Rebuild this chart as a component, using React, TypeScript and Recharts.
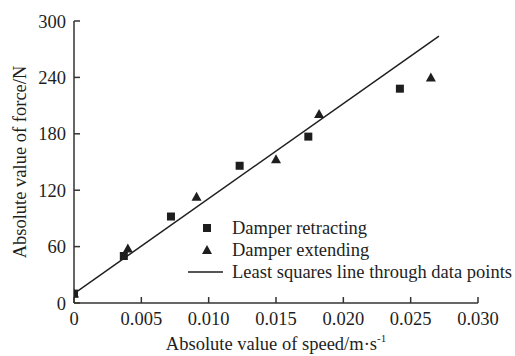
import React from "react";
import {
  ScatterChart,
  Scatter,
  XAxis,
  YAxis,
  Legend,
  Label,
} from "recharts";

const retractingSpeed = [0, 0.0037, 0.0072, 0.0123, 0.0174, 0.0242];
const retractingForce = [10, 50, 92, 146, 177, 228];

const extendingSpeed = [0, 0.004, 0.0091, 0.015, 0.0182, 0.0265];
const extendingForce = [10, 58, 113, 153, 201, 240];

const fitSpeed = [0, 0.0271];
const fitForce = [10, 284];

const xTicks = [0, 0.005, 0.01, 0.015, 0.02, 0.025, 0.03];
const yTicks = [0, 60, 120, 180, 240, 300];

const seriesNames = [
  "Damper retracting",
  "Damper extending",
  "Least squares line through data points",
];

const FONT = "'Liberation Serif', 'Times New Roman', serif";
const FS = 18.5;
const INK = "#1e1e1e";

const toPoints = (xs: number[], ys: number[]) =>
  xs.map((x, i) => ({ x, y: ys[i] }));

const retracting = toPoints(retractingSpeed, retractingForce);
const extending = toPoints(extendingSpeed, extendingForce);
const fitLine = toPoints(fitSpeed, fitForce);

function SquareMark(props: any) {
  const { cx, cy } = props;
  return <rect x={cx - 4} y={cy - 4} width={8} height={8} fill={INK} />;
}

function TriangleMark(props: any) {
  const { cx, cy } = props;
  return (
    <polygon
      points={`${cx},${cy - 5} ${cx - 5},${cy + 4} ${cx + 5},${cy + 4}`}
      fill={INK}
    />
  );
}

function LegendIcon({ index }: { index: number }) {
  return (
    <svg width={40} height={22} style={{ display: "block" }}>
      {index === 0 && <rect x={17} y={7} width={8} height={8} fill={INK} />}
      {index === 1 && <polygon points="21,6 16,15 26,15" fill={INK} />}
      {index === 2 && (
        <line x1={2} y1={11} x2={37} y2={11} stroke={INK} strokeWidth={1.5} />
      )}
    </svg>
  );
}

function ChartLegend() {
  return (
    <div style={{ fontFamily: FONT, fontSize: FS, color: INK }}>
      {seriesNames.map((name, i) => (
        <div
          key={name}
          style={{ display: "flex", alignItems: "center", height: 22, whiteSpace: "nowrap" }}
        >
          <LegendIcon index={i} />
          <span style={{ marginLeft: 6, lineHeight: "22px" }}>{name}</span>
        </div>
      ))}
    </div>
  );
}

function YTitle() {
  return (
    <text
      x={20}
      y={162}
      transform="rotate(-90, 20, 162)"
      textAnchor="middle"
      dominantBaseline="central"
      fontFamily={FONT}
      fontSize={FS}
      fill={INK}
    >
      Absolute value of force/N
    </text>
  );
}

function XTitle() {
  return (
    <text
      x={276}
      y={350}
      textAnchor="middle"
      fontFamily={FONT}
      fontSize={FS}
      fill={INK}
    >
      Absolute value of speed/m·s
      <tspan fontSize={11} dy={-8}>
        -1
      </tspan>
    </text>
  );
}

const formatX = (v: number) => (v === 0 ? "0" : v.toFixed(3));

export default function App() {
  return (
    <div style={{ position: "absolute", left: 0, top: 0 }}>
      <ScatterChart
        width={515}
        height={356}
        margin={{ top: 21, right: 37, bottom: 0, left: 0 }}
      >
        <XAxis
          type="number"
          dataKey="x"
          domain={[0, 0.03]}
          ticks={xTicks}
          tickFormatter={formatX}
          height={53}
          tickSize={-6}
          tickMargin={15}
          stroke="#333"
          strokeWidth={1.5}
          tick={{ fontFamily: FONT, fontSize: FS, fill: INK }}
          allowDataOverflow
        >
          <Label content={<XTitle />} />
        </XAxis>
        <YAxis
          type="number"
          dataKey="y"
          domain={[0, 300]}
          ticks={yTicks}
          width={74}
          tickSize={-6}
          tickMargin={14}
          stroke="#333"
          strokeWidth={1.5}
          tick={{ fontFamily: FONT, fontSize: FS, fill: INK }}
          allowDataOverflow
        >
          <Label content={<YTitle />} />
        </YAxis>
        <Legend
          layout="vertical"
          align="center"
          verticalAlign="middle"
          wrapperStyle={{ left: 186, top: 217, width: "auto" }}
          content={() => <ChartLegend />}
        />
        <Scatter
          name={seriesNames[2]}
          data={fitLine}
          line={{ stroke: INK, strokeWidth: 1.5 }}
          shape={() => null}
          isAnimationActive={false}
        />
        <Scatter
          name={seriesNames[0]}
          data={retracting}
          shape={<SquareMark />}
          isAnimationActive={false}
        />
        <Scatter
          name={seriesNames[1]}
          data={extending}
          shape={<TriangleMark />}
          isAnimationActive={false}
        />
      </ScatterChart>
    </div>
  );
}
